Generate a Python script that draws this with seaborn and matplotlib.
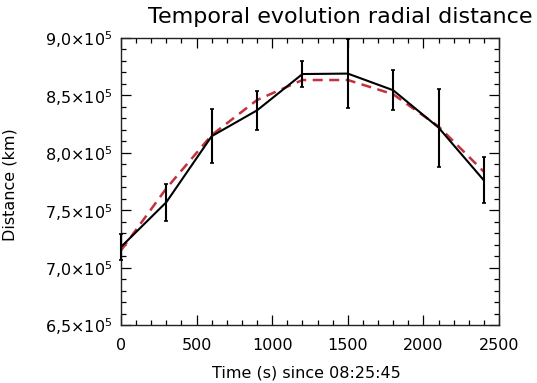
import matplotlib
matplotlib.use("Agg")
import matplotlib.pyplot as plt
import seaborn as sns
import numpy as np
import pandas as pd
from matplotlib.ticker import MultipleLocator, FixedLocator, FixedFormatter

# Data
time_s = [0, 300, 600, 900, 1200, 1500, 1800, 2100, 2400]
distance = [7.18e5, 7.57e5, 8.145e5, 8.37e5, 8.686e5, 8.69e5, 8.545e5, 8.22e5, 7.76e5]
dist_err = [0.115e5, 0.16e5, 0.235e5, 0.17e5, 0.11e5, 0.30e5, 0.175e5, 0.34e5, 0.20e5]
fit_distance = [7.15e5, 7.69e5, 8.155e5, 8.46e5, 8.634e5, 8.634e5, 8.51e5, 8.23e5, 7.835e5]

y_ticks = [6.5e5, 7.0e5, 7.5e5, 8.0e5, 8.5e5, 9.0e5]
y_tick_labels = [r"6,5$\times$10$^5$", r"7,0$\times$10$^5$", r"7,5$\times$10$^5$",
                 r"8,0$\times$10$^5$", r"8,5$\times$10$^5$", r"9,0$\times$10$^5$"]
x_ticks = [0, 500, 1000, 1500, 2000, 2500]
title = "Temporal evolution radial distance"
xlabel = "Time (s) since 08:25:45"
ylabel = "Distance (km)"

sns.set_style("ticks")
plt.rcParams["font.family"] = ["DejaVu Sans"]
plt.rcParams["mathtext.fontset"] = "dejavusans"
plt.rcParams["text.color"] = "black"
plt.rcParams["axes.labelcolor"] = "black"

df = pd.DataFrame({"time": time_s, "distance": distance, "fit": fit_distance})

fig = plt.figure(figsize=(5.37, 3.83), dpi=100)
ax = fig.add_axes([121 / 537, 58 / 383, 378 / 537, 287 / 383])

sns.lineplot(data=df, x="time", y="distance", ax=ax, color="black", linewidth=1.5,
             zorder=3, clip_on=False)
ax.errorbar(time_s, distance, yerr=dist_err, fmt="none", ecolor="black",
            elinewidth=1.5, capsize=1.5, capthick=1.2, zorder=3, clip_on=False)
sns.lineplot(data=df, x="time", y="fit", ax=ax, color="#c4303c", linewidth=1.8,
             zorder=2, clip_on=False)
ax.lines[-1].set_dashes([4, 2.6])

ax.set_xlim(0, 2500)
ax.set_ylim(6.5e5, 9.0e5)
ax.xaxis.set_major_locator(FixedLocator(x_ticks))
ax.xaxis.set_minor_locator(MultipleLocator(100))
ax.yaxis.set_major_locator(FixedLocator(y_ticks))
ax.yaxis.set_major_formatter(FixedFormatter(y_tick_labels))
ax.yaxis.set_minor_locator(MultipleLocator(0.1e5))

ax.tick_params(which="both", direction="in", top=True, right=True, colors="black",
               labelsize=11.5, width=0.9)
ax.tick_params(which="major", length=7, pad=6)
ax.tick_params(axis="x", which="major", pad=9)
ax.tick_params(which="minor", length=3.5)
for s in ax.spines.values():
    s.set_linewidth(1.0)
    s.set_color("#222222")

fig.text(340 / 537, 1 - 17 / 383, title, fontsize=16, ha="center", va="center",
         color="black")
ax.set_xlabel(xlabel, fontsize=11.5)
ax.xaxis.set_label_coords(0.49, (325 - 366) / 287)
ax.set_ylabel(ylabel, fontsize=11.5)
ax.yaxis.set_label_coords((18 - 121) / 378, 0.49)

fig.savefig("out.png", dpi=100, facecolor="white")
